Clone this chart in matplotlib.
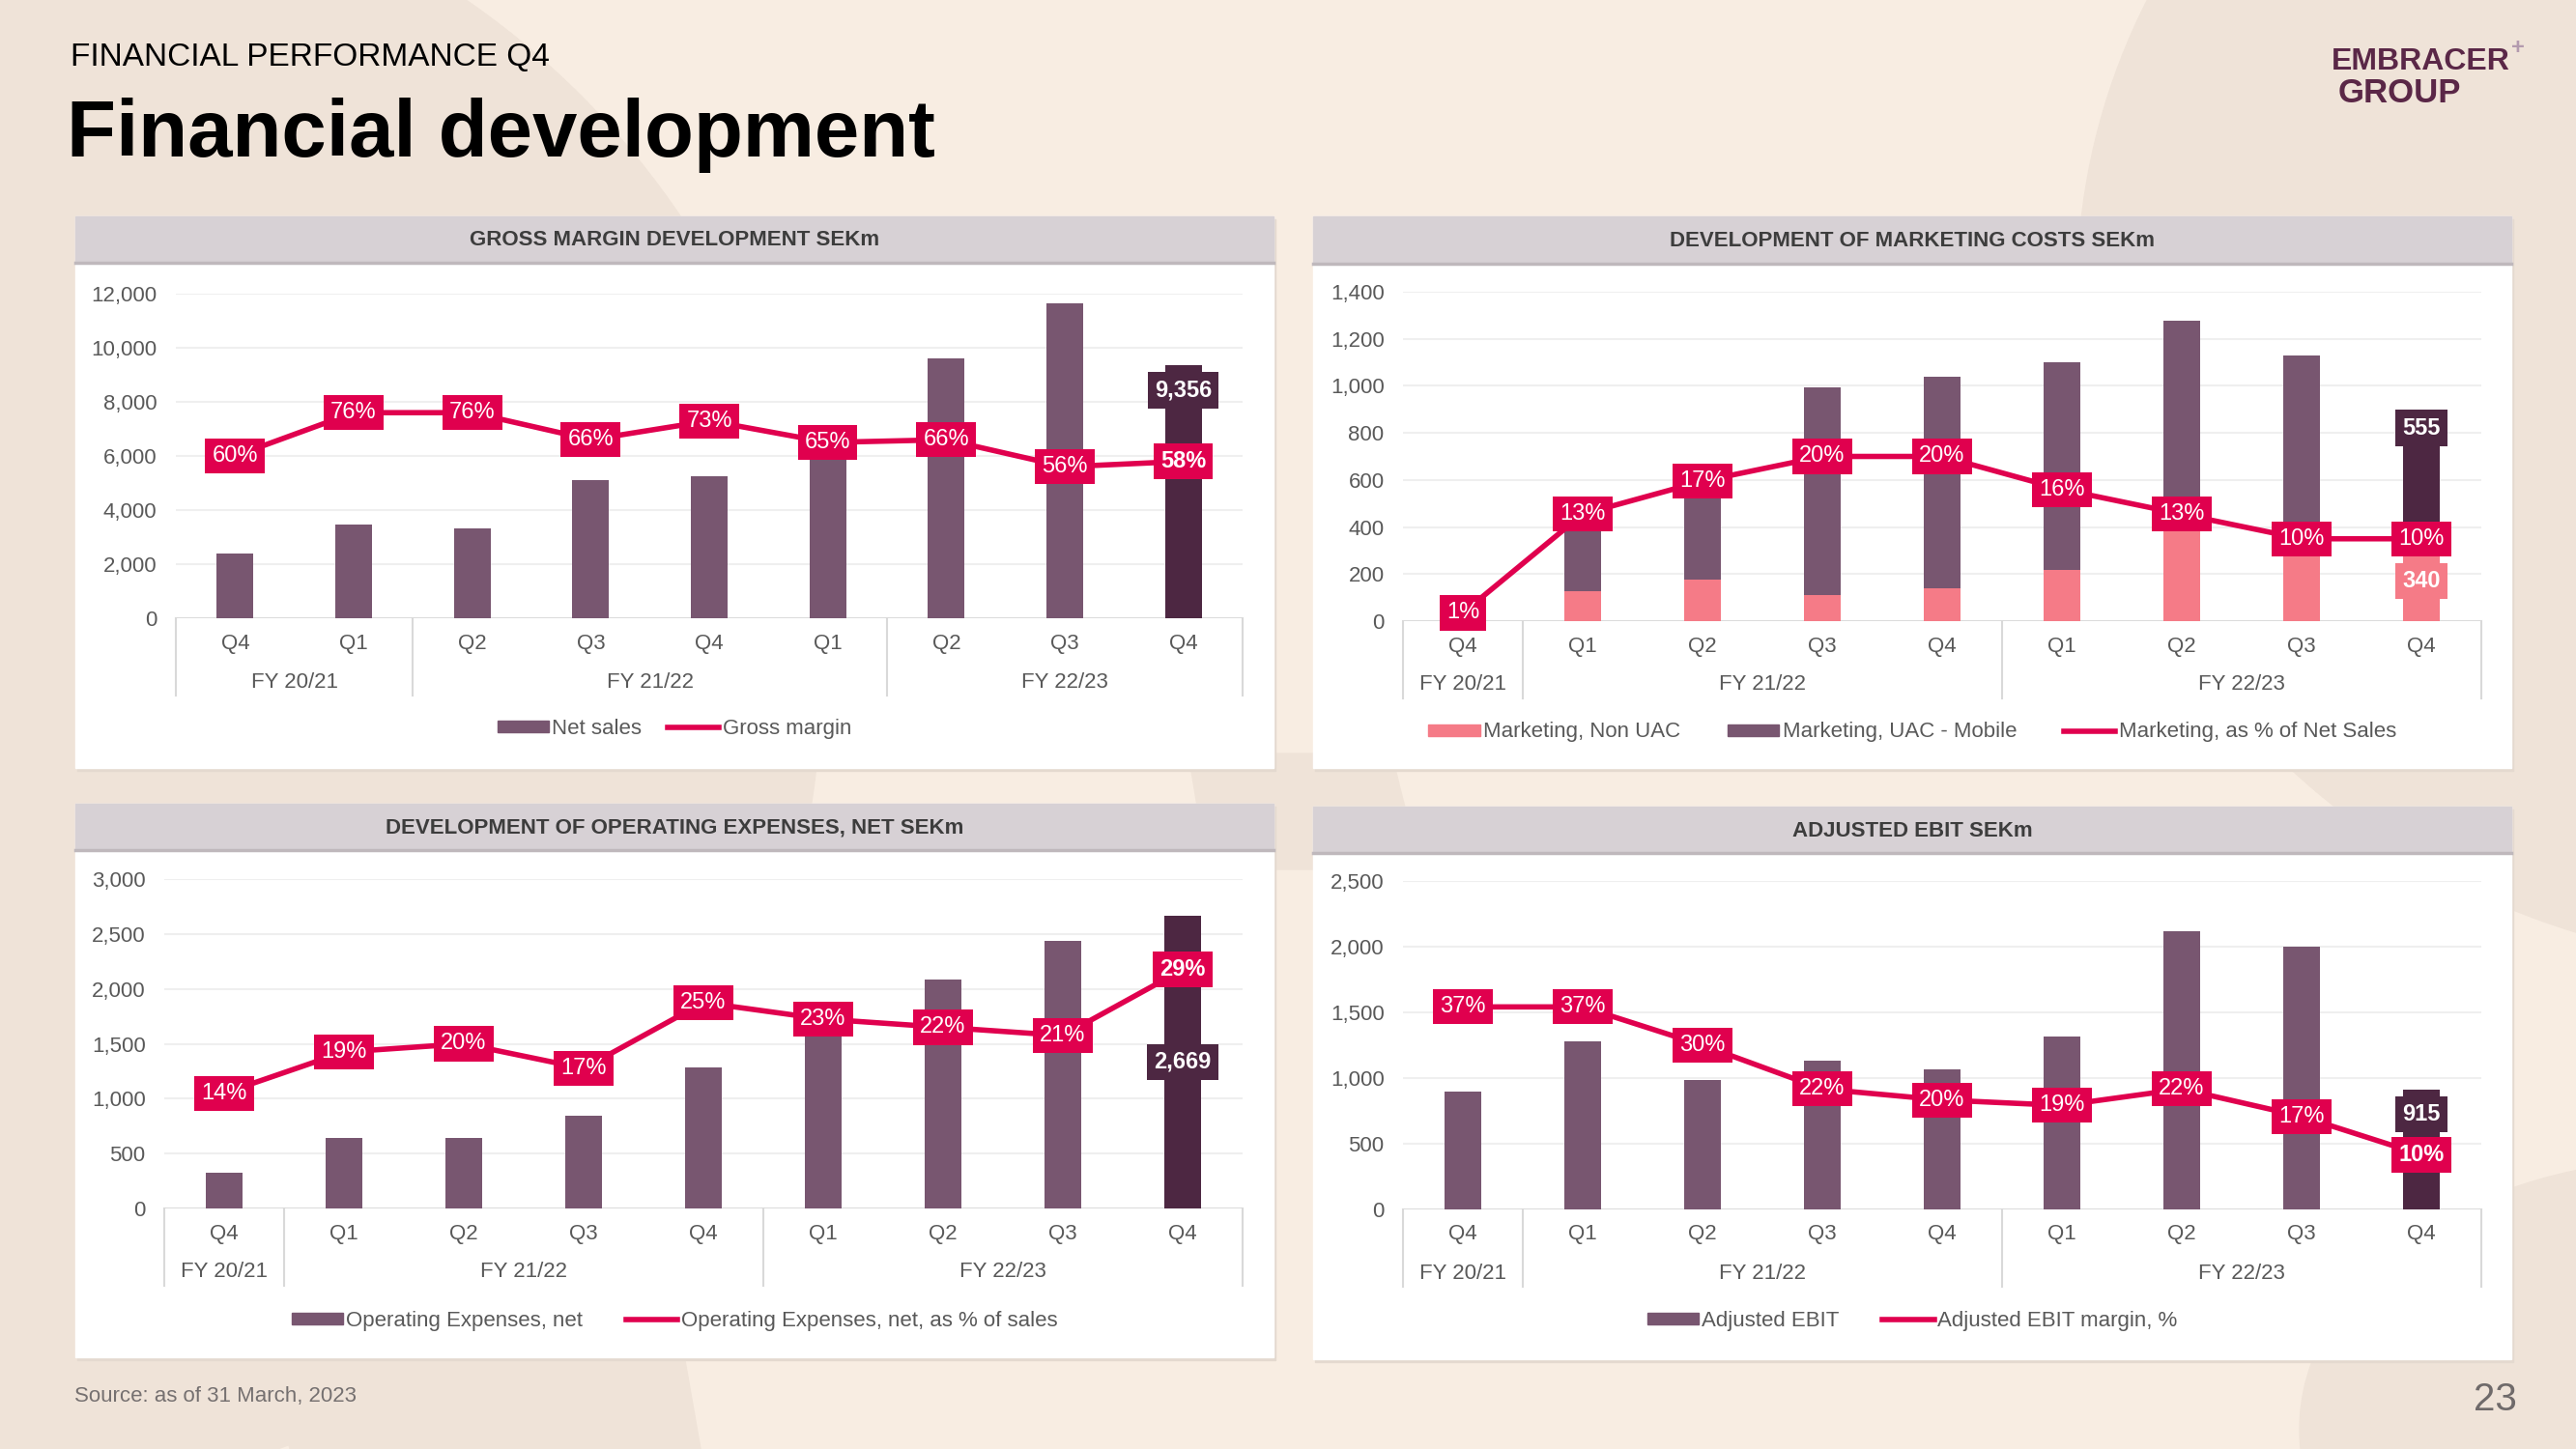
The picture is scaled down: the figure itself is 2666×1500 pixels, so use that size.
import matplotlib
matplotlib.use("Agg")
import matplotlib.pyplot as plt
from matplotlib.patches import Rectangle, Ellipse, Polygon, Patch
from matplotlib.lines import Line2D

plt.rcParams['font.family'] = ['Liberation Sans', 'DejaVu Sans']

# === data ===
quarters = ['Q4', 'Q1', 'Q2', 'Q3', 'Q4', 'Q1', 'Q2', 'Q3', 'Q4']
gm_groups = [('FY 20/21', 0, 1), ('FY 21/22', 2, 5), ('FY 22/23', 6, 8)]
fy_groups = [('FY 20/21', 0, 0), ('FY 21/22', 1, 4), ('FY 22/23', 5, 8)]

net_sales = [2400, 3450, 3310, 5110, 5250, 6240, 9600, 11650, 9356]
gross_margin_pct = [60, 76, 76, 66, 73, 65, 66, 56, 58]

mkt_non_uac = [24, 126, 177, 110, 140, 218, 390, 290, 340]
mkt_uac = [0, 321, 386, 885, 897, 883, 887, 839, 555]
mkt_pct = [1, 13, 17, 20, 20, 16, 13, 10, 10]

opex = [327, 641, 645, 846, 1282, 1650, 2081, 2435, 2669]
opex_pct = [14, 19, 20, 17, 25, 23, 22, 21, 29]

ebit = [897, 1278, 985, 1131, 1068, 1319, 2119, 2003, 915]
ebit_pct = [37, 37, 30, 22, 20, 19, 22, 17, 10]

# === colours ===
BG = '#f8ede2'
BG_DARK = '#efe3d8'
BAR = '#785670'
BAR_LAST = '#4d2742'
PINK = '#f57b87'
RED = '#e0004e'
HEADER = '#d7d1d5'
GRID = '#efefef'
AXLINE = '#d9d9d9'
TXT = '#595959'

W, H = 2666, 1500
fig = plt.figure(figsize=(W / 100, H / 100), dpi=100, facecolor=BG)

# background canvas in pixel coordinates
bg = fig.add_axes([0, 0, 1, 1], zorder=0)
bg.set_xlim(0, W)
bg.set_ylim(H, 0)
bg.axis('off')
bg.add_patch(Rectangle((0, 0), W, H, color=BG, zorder=0))
bg.add_patch(Ellipse((0, 700), 1700, 1700, color=BG_DARK, zorder=1))
bg.add_patch(Ellipse((2900, 300), 1500, 1400, color=BG_DARK, zorder=1))
bg.add_patch(Ellipse((2780, 1480), 800, 560, color=BG_DARK, zorder=1))
bg.add_patch(Polygon([(250, 1300), (690, 1300), (725, 1500), (300, 1500)], color=BG_DARK, zorder=1))
bg.add_patch(Polygon([(1230, 780), (1440, 780), (1470, 900), (1250, 900)], color=BG_DARK, zorder=1))


def px_axes(x0, y_top, x1, y_bot):
    return fig.add_axes([x0 / W, 1 - y_bot / H, (x1 - x0) / W, (y_bot - y_top) / H], zorder=2)


def panel(x0, y0, x1, y1, hdr_bottom, title):
    bg.add_patch(Rectangle((x0 + 2, y0 + 3), x1 - x0, y1 - y0, color='#e4d9cf', zorder=2))
    bg.add_patch(Rectangle((x0, y0), x1 - x0, y1 - y0, color='white', zorder=3))
    bg.add_patch(Rectangle((x0, y0), x1 - x0, hdr_bottom - y0, color=HEADER, zorder=4))
    bg.plot([x0, x1], [hdr_bottom, hdr_bottom], color='#bfb8bc', lw=2.5, zorder=5)
    bg.text((x0 + x1) / 2, (y0 + hdr_bottom) / 2 + 1, title, ha='center', va='center',
            fontsize=16, fontweight='bold', color='#3d3d3d', zorder=6)


def style_axes(ax, ymax, step, groups, height_px):
    ax.set_facecolor('none')
    ax.set_xlim(-0.5, len(quarters) - 0.5)
    ax.set_ylim(0, ymax)
    ticks = list(range(0, ymax + 1, step))
    ax.set_yticks(ticks)
    ax.set_yticklabels([f'{t:,}' for t in ticks], fontsize=16, color=TXT)
    ax.tick_params(axis='y', length=0, pad=14)
    ax.tick_params(axis='x', length=0)
    ax.set_xticks([])
    for s in ax.spines.values():
        s.set_visible(False)
    ax.grid(axis='y', color=GRID, lw=1.5, zorder=0)
    ax.set_axisbelow(True)
    ax.axhline(0, color=AXLINE, lw=2, zorder=1)
    tr = ax.get_xaxis_transform()
    for i, q in enumerate(quarters):
        ax.text(i, -26 / height_px, q, transform=tr, ha='center', va='center',
                fontsize=16, color=TXT, clip_on=False)
    edges = [g[1] - 0.5 for g in groups] + [groups[-1][2] + 0.5]
    for e in edges:
        ax.plot([e, e], [0, -80 / height_px], transform=tr, color=AXLINE, lw=1.5, clip_on=False)
    for name, a, b in groups:
        ax.text((a + b) / 2, -66 / height_px, name, transform=tr, ha='center', va='center',
                fontsize=16, color=TXT, clip_on=False)


def pct_line(ax, pct, pmax, bold_last=False):
    ax2 = ax.twinx()
    ax2.set_ylim(0, pmax)
    ax2.axis('off')
    x = list(range(len(pct)))
    ax2.plot(x, pct, color=RED, lw=4, solid_joinstyle='round', zorder=3)
    for i, p in enumerate(pct):
        ax2.text(i, p, f'{p}%', ha='center', va='center', fontsize=17, color='white',
                 fontweight='bold' if (bold_last and i == len(pct) - 1) else 'normal',
                 bbox=dict(boxstyle='square,pad=0.3', fc=RED, ec='none'), zorder=4)
    return ax2


def value_label(ax2, ax, x, y, text, fc, dy):
    ax2.annotate(text, (x, y), xycoords=ax.transData, xytext=(0, dy), textcoords='offset pixels',
                 ha='center', va='center', fontsize=17, fontweight='bold', color='white',
                 bbox=dict(boxstyle='square,pad=0.3', fc=fc, ec='none'), zorder=5)


def legend(ax, handles, labels, cx, cy, spacing):
    ax.legend(handles, labels, loc='center', bbox_to_anchor=(cx / W, 1 - cy / H),
              bbox_transform=fig.transFigure, ncol=len(handles), frameon=False,
              fontsize=16, labelcolor=TXT, handlelength=2.4, handleheight=0.45,
              handletextpad=0.15, columnspacing=spacing)


bar_colors = [BAR] * (len(quarters) - 1) + [BAR_LAST]
xs = list(range(len(quarters)))
bw = 0.31

# === panel 1: gross margin ===
panel(78, 224, 1318, 795, 272, 'GROSS MARGIN DEVELOPMENT SEKm')
ax1 = px_axes(182, 304, 1286, 640)
style_axes(ax1, 12000, 2000, gm_groups, 336)
ax1.bar(xs, net_sales, width=bw, color=bar_colors, zorder=2)
a1 = pct_line(ax1, gross_margin_pct, 120, bold_last=True)
value_label(a1, ax1, 8, net_sales[-1], f'{net_sales[-1]:,}', BAR_LAST, -26)
legend(ax1, [Patch(color=BAR), Line2D([], [], color=RED, lw=4)],
       ['Net sales', 'Gross margin'], 698, 754, 1.2)

# === panel 2: marketing costs ===
panel(1359, 224, 2599, 795, 273, 'DEVELOPMENT OF MARKETING COSTS SEKm')
ax2 = px_axes(1452, 302, 2568, 643)
style_axes(ax2, 1400, 200, fy_groups, 341)
ax2.bar(xs, mkt_non_uac, width=bw, color=PINK, zorder=2)
ax2.bar(xs, mkt_uac, width=bw, bottom=mkt_non_uac, color=bar_colors, zorder=2)
a2 = pct_line(ax2, mkt_pct, 40)
value_label(a2, ax2, 8, mkt_non_uac[-1] + mkt_uac[-1], f'{mkt_uac[-1]:,}', BAR_LAST, -18)
value_label(a2, ax2, 8, mkt_non_uac[-1] / 2, f'{mkt_non_uac[-1]:,}', PINK, 0)
legend(ax2, [Patch(color=PINK), Patch(color=BAR), Line2D([], [], color=RED, lw=4)],
       ['Marketing, Non UAC', 'Marketing, UAC - Mobile', 'Marketing, as % of Net Sales'],
       1979, 758, 2.2)

# === panel 3: operating expenses ===
panel(78, 832, 1318, 1405, 880, 'DEVELOPMENT OF OPERATING EXPENSES, NET SEKm')
ax3 = px_axes(170, 910, 1286, 1251)
style_axes(ax3, 3000, 500, fy_groups, 341)
ax3.bar(xs, opex, width=bw, color=bar_colors, zorder=2)
a3 = pct_line(ax3, opex_pct, 40, bold_last=True)
value_label(a3, ax3, 8, opex[-1] / 2, f'{opex[-1]:,}', BAR_LAST, 0)
legend(ax3, [Patch(color=BAR), Line2D([], [], color=RED, lw=4)],
       ['Operating Expenses, net', 'Operating Expenses, net, as % of sales'], 698, 1367, 2.0)

# === panel 4: adjusted EBIT ===
panel(1359, 835, 2599, 1407, 883, 'ADJUSTED EBIT SEKm')
ax4 = px_axes(1452, 912, 2568, 1252)
style_axes(ax4, 2500, 500, fy_groups, 340)
ax4.bar(xs, ebit, width=bw, color=bar_colors, zorder=2)
a4 = pct_line(ax4, ebit_pct, 60, bold_last=True)
value_label(a4, ax4, 8, ebit[-1], f'{ebit[-1]:,}', BAR_LAST, -26)
legend(ax4, [Patch(color=BAR), Line2D([], [], color=RED, lw=4)],
       ['Adjusted EBIT', 'Adjusted EBIT margin, %'], 1979, 1367, 2.0)

# === slide texts ===
bg.text(73, 60, 'FINANCIAL PERFORMANCE Q4', fontsize=24, va='center', color='black', zorder=6)
bg.text(69, 140, 'Financial development', fontsize=60, fontweight='bold', va='center',
        color='black', zorder=6)
bg.text(2413, 64, 'EMBRACER', fontsize=23, fontweight='bold', va='center', color='#5a2747', zorder=6)
bg.text(2420, 96, 'GROUP', fontsize=25, fontweight='bold', va='center', color='#5a2747', zorder=6)
bg.text(2599, 50, '+', fontsize=17, fontweight='bold', va='center', color='#b39aae', zorder=6)
bg.text(77, 1446, 'Source: as of 31 March, 2023', fontsize=16, va='center', color='#757070', zorder=6)
bg.text(2605, 1449, '23', fontsize=29, va='center', ha='right', color='#6f6a6a', zorder=6)

fig.savefig('out.png', dpi=100, facecolor=BG)
